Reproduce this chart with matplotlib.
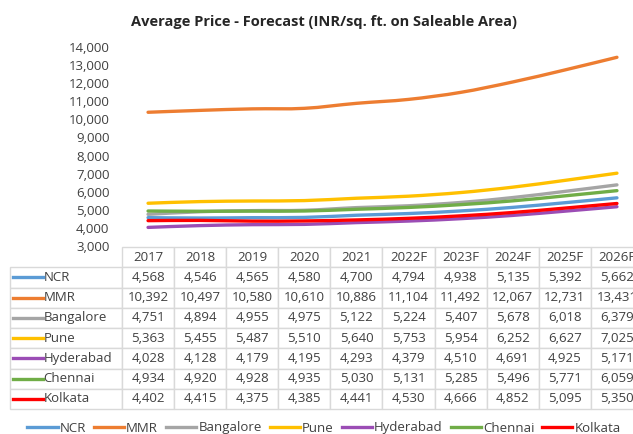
import numpy as np
import matplotlib
matplotlib.use('Agg')
import matplotlib.pyplot as plt
from matplotlib.path import Path
from matplotlib.patches import PathPatch
from matplotlib.lines import Line2D
from matplotlib.ticker import FuncFormatter

plt.rcParams['font.family'] = ['Open Sans', 'DejaVu Sans']

years = ['2017', '2018', '2019', '2020', '2021', '2022F', '2023F', '2024F', '2025F', '2026F']
cities = ['NCR', 'MMR', 'Bangalore', 'Pune', 'Hyderabad', 'Chennai', 'Kolkata']
ncr = [4568, 4546, 4565, 4580, 4700, 4794, 4938, 5135, 5392, 5662]
mmr = [10392, 10497, 10580, 10610, 10886, 11104, 11492, 12067, 12731, 13431]
bangalore = [4751, 4894, 4955, 4975, 5122, 5224, 5407, 5678, 6018, 6379]
pune = [5363, 5455, 5487, 5510, 5640, 5753, 5954, 6252, 6627, 7025]
hyderabad = [4028, 4128, 4179, 4195, 4293, 4379, 4510, 4691, 4925, 5171]
chennai = [4934, 4920, 4928, 4935, 5030, 5131, 5285, 5496, 5771, 6059]
kolkata = [4402, 4415, 4375, 4385, 4441, 4530, 4666, 4852, 5095, 5350]
series = [ncr, mmr, bangalore, pune, hyderabad, chennai, kolkata]
colors = ['#5B9BD5', '#ED7D31', '#A5A5A5', '#FFC000', '#9B4DB5', '#70AD47', '#FF0000']
txt_col = '#404040'
grid_col = '#D9D9D9'


def smooth(xs, ys):
    # excel-like smoothed line (catmull-rom as bezier)
    n = len(xs)
    verts = [(xs[0], ys[0])]
    codes = [Path.MOVETO]
    for i in range(n - 1):
        a = max(i - 1, 0)
        b = min(i + 2, n - 1)
        c1 = (xs[i] + (xs[i + 1] - xs[a]) / 6, ys[i] + (ys[i + 1] - ys[a]) / 6)
        c2 = (xs[i + 1] - (xs[b] - xs[i]) / 6, ys[i + 1] - (ys[b] - ys[i]) / 6)
        verts += [c1, c2, (xs[i + 1], ys[i + 1])]
        codes += [Path.CURVE4] * 3
    return Path(verts, codes)


W, H = 633, 434
fig = plt.figure(figsize=(W / 100, H / 100), dpi=100)
ax_l, ax_r, ax_t, ax_b = 122, 643, 47, 246
ax = fig.add_axes([ax_l / W, 1 - ax_b / H, (ax_r - ax_l) / W, (ax_b - ax_t) / H])

x = np.arange(len(years))
handles = []
for name, vals, c in zip(cities, series, colors):
    ax.add_patch(PathPatch(smooth(x, vals), fill=False, edgecolor=c, lw=2.4, capstyle='round'))
    handles.append(Line2D([], [], color=c, lw=2.4, label=name))

ax.set_xlim(-0.5, len(years) - 0.5)
ax.set_ylim(3000, 14000)
ax.set_yticks(np.arange(3000, 14001, 1000))
ax.yaxis.set_major_formatter(FuncFormatter(lambda v, p: f'{int(v):,}'))
ax.tick_params(axis='y', length=0, pad=9, labelsize=9.5, labelcolor=txt_col)
ax.set_xticks([])
for s in ax.spines.values():
    s.set_visible(False)

ax.set_title('Average Price - Forecast (INR/sq. ft. on Saleable Area)', fontsize=10.5,
             fontweight='bold', color='#262626', x=(324 - ax_l) / (ax_r - ax_l), pad=15)

# data table under the plot (bbox covers the data cells, row labels sit left of it)
tb_t, tb_b = 247, 409
aw, ah = ax_r - ax_l, ax_b - ax_t
bbox = [0, (ax_b - tb_b) / ah, 1, (tb_b - tb_t) / ah]
cell_text = [[f'{v:,}' for v in vals] for vals in series]
tbl = ax.table(cellText=cell_text, colLabels=years, cellLoc='center',
               colWidths=[1.0 / len(years)] * len(years), bbox=bbox)
row_h = tbl[1, 0].get_height()
for i, name in enumerate(cities):
    tbl.add_cell(i + 1, -1, width=112 / aw, height=row_h, text=name, loc='left')
tbl.auto_set_font_size(False)
tbl.set_fontsize(9.5)
for (r, c), cell in tbl.get_celld().items():
    cell.set_edgecolor(grid_col)
    cell.set_linewidth(1.0)
    cell.get_text().set_color(txt_col)
    if c == -1:
        cell.PAD = 0.3

# coloured keys in the row label cells
nrows = len(cities) + 1
for i, c in enumerate(colors):
    yc = bbox[1] + bbox[3] * (nrows - (i + 1) - 0.5) / nrows
    ax.add_line(Line2D([(13 - ax_l) / aw, (43 - ax_l) / aw], [yc, yc], transform=ax.transAxes,
                       color=c, lw=2.4, clip_on=False))

fig.legend(handles=handles, loc='center', bbox_to_anchor=(324 / W, 1 - 428 / H), ncol=7,
           frameon=False, fontsize=9.5, handlelength=2.3, handletextpad=0.15,
           columnspacing=0.6, labelcolor=txt_col)

fig.savefig('out.png', dpi=100)
